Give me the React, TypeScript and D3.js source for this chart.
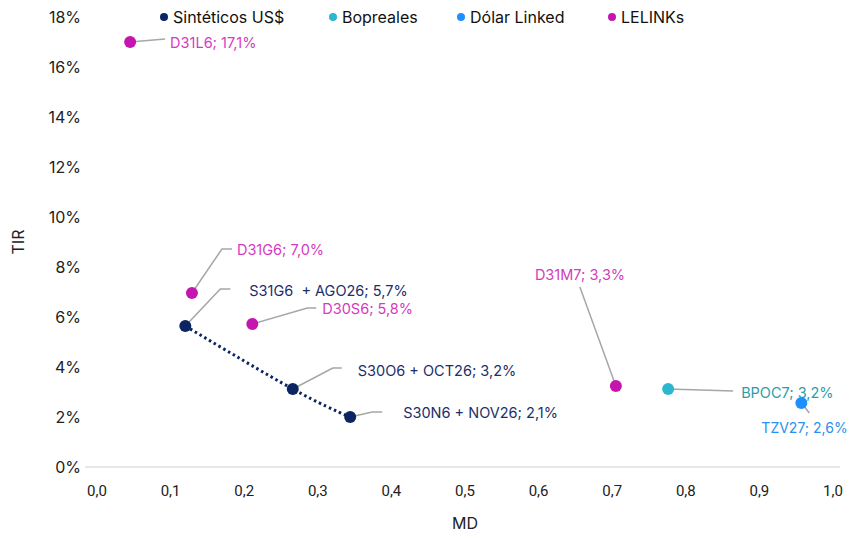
import React from "react";
import * as d3 from "d3";

const seriesNames = ["Sintéticos US$", "Bopreales", "Dólar Linked", "LELINKs"];
const seriesColors = ["#0C2461", "#2BB8CE", "#1E8FFF", "#C415AE"];
const labelColors = ["#1B2F6B", "#2A9DAB", "#2A8FF0", "#D53BC1"];

const names = ["D31L6", "D31G6", "S31G6  + AGO26", "D30S6", "S30O6 + OCT26", "S30N6 + NOV26", "D31M7", "BPOC7", "TZV27"];
const seriesIdx = [3, 3, 0, 3, 0, 0, 3, 1, 2];
const mdValues = [0.045, 0.129, 0.120, 0.211, 0.266, 0.344, 0.705, 0.776, 0.957];
const tirValues = [17.0, 6.96, 5.64, 5.72, 3.12, 2.0, 3.24, 3.12, 2.56];
const tirLabels = ["17,1%", "7,0%", "5,7%", "5,8%", "3,2%", "2,1%", "3,3%", "3,2%", "2,6%"];

const xTicks = [0, 0.1, 0.2, 0.3, 0.4, 0.5, 0.6, 0.7, 0.8, 0.9, 1.0];
const yTicks = [0, 2, 4, 6, 8, 10, 12, 14, 16, 18];

// label layout (pixel offsets from the point): leader path points and text anchor
const leaderPaths: [number, number][][] = [
  [[35, -3]],
  [[30, -44], [40, -44]],
  [[35, -37], [45, -37]],
  [[55, -16], [64, -16]],
  [[40, -21], [49, -21]],
  [[22, -5], [32, -5]],
  [[-36, -99]],
  [[65, 2]],
  [[8, 10]],
];
const textOffsets: [number, number][] = [
  [40, 0], [45, -44], [64, -36], [70, -16], [65, -19], [53, -5], [-81, -112], [73, 3], [-40, 24],
];

const W = 852, H = 538;
const font = "Inter, 'Noto Sans', sans-serif";

export default function App() {
  const x = d3.scaleLinear().domain([0, 1]).range([97, 833]);
  const y = d3.scaleLinear().domain([0, 18]).range([467, 17]);

  const synthIdx = names.map((_, i) => i).filter((i) => seriesIdx[i] === 0).sort((a, b) => mdValues[a] - mdValues[b]);
  const trend = d3.line<number>().x((i) => x(mdValues[i])).y((i) => y(tirValues[i])).curve(d3.curveNatural)(synthIdx) || "";

  const legendX = [164, 333, 461, 612];

  return (
    <svg width={W} height={H} style={{ position: "absolute", left: 0, top: 0, background: "#fff" }} fontFamily={font}>
      {/* x axis line */}
      <line x1={x(0) - 12} x2={x(1) + 7} y1={y(0)} y2={y(0)} stroke="#d0d0d0" strokeWidth={1.2} />
      {xTicks.map((t) => (
        <text key={"x" + t} x={x(t)} y={491} textAnchor="middle" fontSize={15} fontFamily="Roboto, sans-serif" fill="#222" dominantBaseline="central">
          {d3.format(".1f")(t).replace(".", ",")}
        </text>
      ))}
      {yTicks.map((t) => (
        <text key={"y" + t} x={81} y={y(t)} textAnchor="end" fontSize={16} fill="#222" dominantBaseline="central">
          {t + "%"}
        </text>
      ))}
      <text x={465} y={523} textAnchor="middle" fontSize={16} fill="#222" dominantBaseline="central">MD</text>
      <text transform={`translate(18,242) rotate(-90)`} textAnchor="middle" fontSize={16} fill="#222" dominantBaseline="central">TIR</text>

      {/* legend */}
      {seriesNames.map((s, i) => (
        <g key={s}>
          <circle cx={legendX[i]} cy={17} r={4} fill={seriesColors[i]} />
          <text x={legendX[i] + 9} y={17} fontSize={16} fill="#111" dominantBaseline="central">{s}</text>
        </g>
      ))}

      {/* trend line */}
      <path d={trend} fill="none" stroke={seriesColors[0]} strokeWidth={3} strokeDasharray="2.5 3" strokeLinecap="butt" />

      {/* leader lines */}
      {names.map((n, i) => {
        const px = x(mdValues[i]), py = y(tirValues[i]);
        const pts: [number, number][] = [[px, py], ...leaderPaths[i].map(([dx, dy]) => [px + dx, py + dy] as [number, number])];
        return <path key={"l" + n} d={d3.line()(pts) || ""} fill="none" stroke="#a6a6a6" strokeWidth={1.5} />;
      })}

      {/* points */}
      {names.map((n, i) => (
        <circle key={"p" + n} cx={x(mdValues[i])} cy={y(tirValues[i])} r={6} fill={seriesColors[seriesIdx[i]]} />
      ))}

      {/* labels */}
      {names.map((n, i) => (
        <text key={"t" + n} x={x(mdValues[i]) + textOffsets[i][0]} y={y(tirValues[i]) + textOffsets[i][1]} fontSize={i === 8 ? 14 : 14.5} fill={labelColors[seriesIdx[i]]} dominantBaseline="central" style={{ whiteSpace: "pre" }}>
          {`${n}; ${tirLabels[i]}`}
        </text>
      ))}
    </svg>
  );
}
